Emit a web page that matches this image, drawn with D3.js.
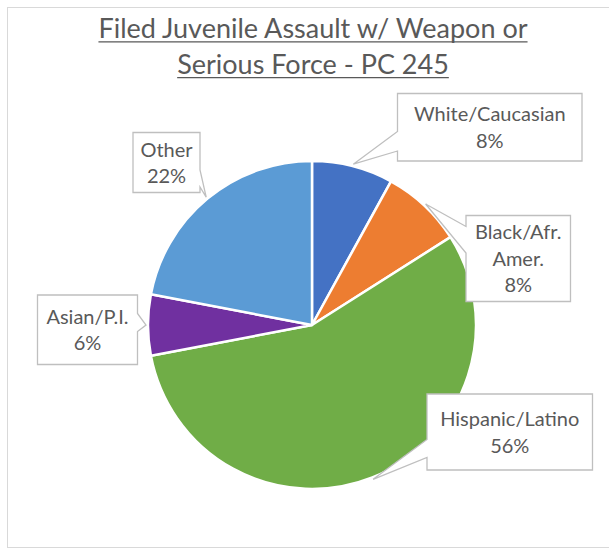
<!DOCTYPE html>
<html>
<head>
<meta charset="utf-8">
<script src="https://cdn.jsdelivr.net/npm/d3@7"></script>
<style>
  html, body { margin: 0; padding: 0; background: #fff; }
  svg { display: block; }
</style>
</head>
<body>
<svg id="chart" width="609" height="548"></svg>
<script>
// ---- data ----
const categories = ["White/Caucasian", "Black/Afr. Amer.", "Hispanic/Latino", "Asian/P.I.", "Other"];
const values = [8, 8, 56, 6, 22];
const colors = ["#4472C4", "#ED7D31", "#70AD47", "#7030A0", "#5B9BD5"];
const titleLines = ["Filed Juvenile Assault w/ Weapon or", "Serious Force - PC 245"];

// ---- layout ----
const W = 609, H = 548;
const cx = 312, cy = 325, R = 164;
const FONT = "Lato, 'Open Sans', sans-serif";
const textColor = "#595959";

// callout boxes: x, y, w, h, side of wedge, wedge base (two coords along that side)
const boxes = [
  { x: 397.5, y: 93.5,  w: 184.5, h: 67.5, side: "left",  b: [131.5, 151] },
  { x: 466,   y: 215.5, w: 104.5, h: 86,   side: "left",  b: [226.5, 253] },
  { x: 427,   y: 394,   w: 165.5, h: 76,   side: "left",  b: [439.5, 457.5] },
  { x: 37.5,  y: 295,   w: 100,   h: 69.5, side: "right", b: [313.5, 331.5] },
  { x: 133,   y: 132.5, w: 67,    h: 60,   side: "right", b: [170, 187] }
];

const svg = d3.select("#chart");

// chart area border
svg.append("rect")
  .attr("x", 7.5).attr("y", 7.5)
  .attr("width", W).attr("height", 540)
  .attr("fill", "#fff")
  .attr("stroke", "#d9d9d9").attr("stroke-width", 1);

// title
const titleG = svg.append("g");
const titleBaselines = [38.3, 74];
titleLines.forEach((t, i) => {
  const txt = titleG.append("text")
    .attr("x", 313).attr("y", titleBaselines[i])
    .attr("text-anchor", "middle")
    .attr("font-family", FONT)
    .attr("font-size", 27)
    .attr("fill", textColor)
    .text(t);
  const len = txt.node().getComputedTextLength();
  titleG.append("line")
    .attr("x1", 313 - len / 2).attr("x2", 313 + len / 2)
    .attr("y1", titleBaselines[i] + 3.6).attr("y2", titleBaselines[i] + 3.6)
    .attr("stroke", textColor).attr("stroke-width", 1.2);
});

// pie
const data = categories.map((c, i) => ({ name: c, value: values[i], color: colors[i], box: boxes[i] }));
const pie = d3.pie().value(d => d.value).sort(null).startAngle(0).endAngle(2 * Math.PI);
const arcs = pie(data);
const arc = d3.arc().innerRadius(0).outerRadius(R);

const g = svg.append("g").attr("transform", `translate(${cx},${cy})`);
g.selectAll("path.slice")
  .data(arcs)
  .join("path")
  .attr("class", "slice")
  .attr("d", arc)
  .attr("fill", d => d.data.color)
  .attr("stroke", "#fff")
  .attr("stroke-width", 2.5)
  .attr("stroke-linejoin", "round");

// callouts
const total = d3.sum(values);
const fmt = v => Math.round(v / total * 100) + "%";

arcs.forEach(a => {
  const bx = a.data.box;
  const mid = (a.startAngle + a.endAngle) / 2;
  const tipX = cx + Math.sin(mid) * (R + 2);
  const tipY = cy - Math.cos(mid) * (R + 2);
  let p;
  const x0 = bx.x, y0 = bx.y, x1 = bx.x + bx.w, y1 = bx.y + bx.h;
  if (bx.side === "left") {
    p = `M${x0},${y0}H${x1}V${y1}H${x0}V${bx.b[1]}L${tipX},${tipY}L${x0},${bx.b[0]}Z`;
  } else {
    p = `M${x0},${y0}H${x1}V${bx.b[0]}L${tipX},${tipY}L${x1},${bx.b[1]}V${y1}H${x0}Z`;
  }
  svg.append("path")
    .attr("d", p)
    .attr("fill", "#fff")
    .attr("stroke", "#bfbfbf")
    .attr("stroke-width", 1.3)
    .attr("stroke-linejoin", "miter");

  const lines = a.data.name.split(" ").concat([fmt(a.data.value)]);
  const lh = 26.5;
  const centerY = bx.y + bx.h / 2;
  const first = centerY - (lines.length - 1) * lh / 2 + 7.3;
  const t = svg.append("text")
    .attr("text-anchor", "middle")
    .attr("font-family", FONT)
    .attr("font-size", 20)
    .attr("fill", textColor);
  lines.forEach((ln, i) => {
    t.append("tspan")
      .attr("x", bx.x + bx.w / 2)
      .attr("y", first + i * lh)
      .text(ln);
  });
});
</script>
</body>
</html>
